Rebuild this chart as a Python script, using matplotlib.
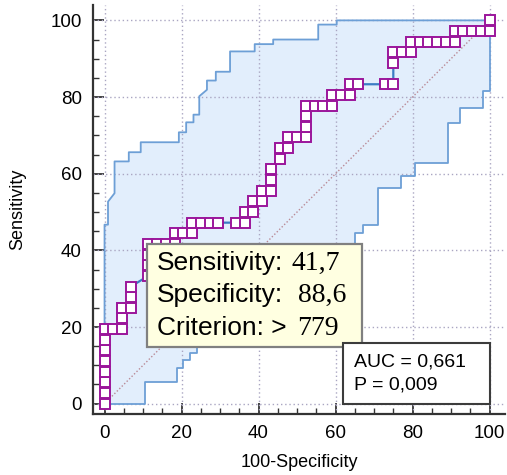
import matplotlib
matplotlib.use('Agg')
import matplotlib.pyplot as plt
from matplotlib.patches import Rectangle
import numpy as np

plt.rcParams['font.family'] = ['Liberation Sans', 'DejaVu Sans']

# ROC points as counts: 44 negatives, 36 positives
n_neg = 44
n_pos = 36
fp = [0,0,0,0,0,0,0,0, 1,2, 2,2, 3,3,3, 5,5,5,5, 6,7,8, 8,9,10, 10,11,12,13,
      15,16, 16,17, 17,18, 18,19, 19,19, 20,20, 21,21, 22,23, 23,23,23,
      24,25,26, 26,27,28, 28,29, 32,33, 33,33, 34,35,
      35,36,37,38,39,40, 40,41,42,43,44, 44]
tp = [0,1,2,3,4,5,6,7, 7,7, 8,9, 9,10,11, 12,13,14,15, 15,15,15, 16,16,16, 17,17,17,17,
      17,17, 18,18, 19,19, 20,20, 21,22, 23,24, 24,25, 25,25, 26,27,28,
      28,28,28, 29,29,29, 30,30, 30,30, 32,33, 33,33,
      34,34,34,34,34,34, 35,35,35,35,35, 36]

# 95% confidence bounds (outline vertices, percent)
up_x = [0, 0, 0.9, 0.9, 2.6, 2.6, 6.3, 6.3, 9.4, 9.4, 19.3, 19.3, 21.2, 21.2, 23.1, 23.1,
        24.6, 24.6, 26.6, 26.6, 28.9, 28.9, 32.6, 32.6, 39.0, 39.0, 43.8, 43.8, 55.5, 55.5,
        60.3, 60.3, 100]
up_y = [0, 46.7, 46.7, 52.7, 54.9, 63.2, 63.2, 65.6, 65.6, 68.2, 68.2, 70.8, 70.8, 73.4, 73.4, 75.4,
        75.4, 80.2, 81.9, 84.3, 84.3, 86.6, 86.6, 91.9, 91.9, 93.8, 93.8, 95.0, 95.0, 98.9,
        98.9, 100, 100]
lo_x = [0, 10.5, 10.5, 18.9, 18.9, 20.3, 20.3, 22.2, 22.2, 24.0, 24.0, 26.5, 26.5, 31, 31, 37, 37,
        44, 44, 51, 51, 58, 58, 65, 65, 67, 67, 71.1, 71.1, 77.1, 77.1, 80.6, 80.6, 89.2, 89.2,
        92.3, 92.3, 98.3, 98.3, 100, 100]
lo_y = [0, 0, 5.7, 5.7, 9.2, 9.2, 11.5, 11.5, 13.2, 13.2, 14.9, 14.9, 18, 18, 22, 22, 26,
        26, 30, 30, 34, 34, 38, 38, 44.5, 44.5, 46.7, 46.7, 56.2, 56.2, 59.3, 59.3, 62.8, 62.8, 73.2,
        73.2, 77.1, 77.1, 81.5, 81.5, 100]

sens_txt = '41,7'
spec_txt = '88,6'
crit_txt = '779'
auc_txt = 'AUC = 0,661'
p_txt = 'P = 0,009'

x = 100.0 * np.array(fp) / n_neg
y = 100.0 * np.array(tp) / n_pos

fig = plt.figure(figsize=(5.07, 4.75), dpi=100, facecolor='w')
ax = fig.add_axes([0.1834, 0.1284, 0.8126, 0.861])
ax.set_xlim(-3.0, 104)
ax.set_ylim(-2.7, 104)

# confidence band
bx = np.concatenate([up_x, lo_x[::-1]])
by = np.concatenate([up_y, lo_y[::-1]])
ax.fill(bx, by, color='#e2eefc', lw=0, zorder=1)
ax.plot(up_x, up_y, color='#6d9fd6', lw=1.3, zorder=3)
ax.plot(lo_x, lo_y, color='#6d9fd6', lw=1.3, zorder=3)

# grid
for g in range(0, 101, 20):
    ax.axvline(g, color='#aaa6c2', lw=1.0, ls=(0, (1, 2)), zorder=2)
    ax.axhline(g, color='#aaa6c2', lw=1.0, ls=(0, (1, 2)), zorder=2)

# diagonal
ax.plot([0, 100], [0, 100], color='#b98a96', lw=1.0, ls=(0, (1, 1.5)), zorder=2)

# ROC curve
ax.plot(x, y, color='#3b7cc4', lw=1.6, marker='s', ms=7, mfc='white',
        mec='#9b169b', mew=1.4, zorder=5)

# axes styling
for s in ['top', 'right']:
    ax.spines[s].set_visible(False)
for s in ['left', 'bottom']:
    ax.spines[s].set_color('#333333')
    ax.spines[s].set_linewidth(1.6)
ax.set_xticks(range(0, 101, 20))
ax.set_yticks(range(0, 101, 20))
ax.set_xticks(range(0, 101, 5), minor=True)
ax.set_yticks(range(0, 101, 5), minor=True)
ax.tick_params(which='major', direction='in', length=8, width=1.3, color='#333333',
               labelsize=13.5, pad=8)
ax.tick_params(which='minor', direction='in', length=4, width=1.0, color='#333333')
ax.set_xlabel('100-Specificity', fontsize=13)
ax.set_ylabel('Sensitivity', fontsize=13)
ax.xaxis.set_label_coords(0.5, -0.097)
ax.yaxis.set_label_coords(-0.163, 0.5)

# criterion box
px, py = x[18], y[18]
ax.add_patch(Rectangle((px - 0.4, py - 26.9), 55.9, 26.9, facecolor='#ffffe1',
                       edgecolor='#808080', lw=1.6, zorder=8))
lab_kw = dict(fontsize=19, va='baseline', ha='left', zorder=9)
val_kw = dict(fontsize=20, va='baseline', ha='left', zorder=9,
              family=['Liberation Serif', 'DejaVu Serif'])
ax.text(13.5, 34.9, 'Sensitivity:', **lab_kw)
ax.text(48.6, 34.9, sens_txt, **val_kw)
ax.text(13.5, 26.6, 'Specificity:', **lab_kw)
ax.text(50.2, 26.6, spec_txt, **val_kw)
ax.text(13.5, 17.9, 'Criterion: >', **lab_kw)
ax.text(49.9, 17.9, crit_txt, **val_kw)

# AUC box
ax.add_patch(Rectangle((62, -0.1), 38, 16.0, facecolor='white',
                       edgecolor='#3c3c3c', lw=1.5, zorder=8))
ax.text(64.8, 9.8, auc_txt, fontsize=14, va='baseline', zorder=9)
ax.text(64.8, 3.8, p_txt, fontsize=14, va='baseline', zorder=9)

fig.savefig('out.png', dpi=100)
